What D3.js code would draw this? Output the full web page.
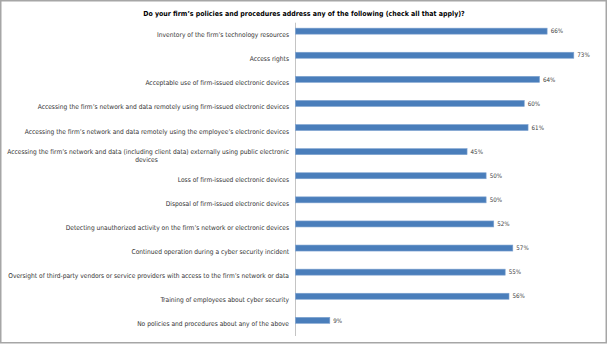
<!DOCTYPE html>
<html>
<head>
<meta charset="utf-8">
<script src="https://cdn.jsdelivr.net/npm/d3@7"></script>
<style>
  html, body { margin: 0; padding: 0; background: #fff; }
  svg { display: block; }
  text { font-family: "Liberation Sans Narrow", "DejaVu Sans Condensed", "Liberation Sans", sans-serif; }
</style>
</head>
<body>
<svg id="chart" width="608" height="344"></svg>
<script>
const title = "Do your firm\u2019s policies and procedures address any of the following (check all that apply)?";

const categories = [
  "Inventory of the firm\u2019s technology resources",
  "Access rights",
  "Acceptable use of firm-issued electronic devices",
  "Accessing the firm\u2019s network and data remotely using firm-issued electronic devices",
  "Accessing the firm\u2019s network and data remotely using the employee\u2019s electronic devices",
  "Accessing the firm\u2019s network and data (including client data) externally using public electronic devices",
  "Loss of firm-issued electronic devices",
  "Disposal of firm-issued electronic devices",
  "Detecting unauthorized activity on the firm\u2019s network or electronic devices",
  "Continued operation during a cyber security incident",
  "Oversight of third-party vendors or service providers with access to the firm\u2019s network or data",
  "Training of employees about cyber security",
  "No policies and procedures about any of the above"
];

// Label lines (the long public-device item wraps onto two lines)
const labelLines = [
  ["Inventory of the firm\u2019s technology resources"],
  ["Access rights"],
  ["Acceptable use of firm-issued electronic devices"],
  ["Accessing the firm\u2019s network and data remotely using firm-issued electronic devices"],
  ["Accessing the firm\u2019s network and data remotely using the employee\u2019s electronic devices"],
  ["Accessing the firm\u2019s network and data (including client data) externally using public electronic", "devices"],
  ["Loss of firm-issued electronic devices"],
  ["Disposal of firm-issued electronic devices"],
  ["Detecting unauthorized activity on the firm\u2019s network or electronic devices"],
  ["Continued operation during a cyber security incident"],
  ["Oversight of third-party vendors or service providers with access to the firm\u2019s network or data"],
  ["Training of employees about cyber security"],
  ["No policies and procedures about any of the above"]
];

const values = [66, 73, 64, 60, 61, 45, 50, 50, 52, 57, 55, 56, 9];

const svg = d3.select("#chart");

// Outer frame
svg.append("rect")
  .attr("x", 0.75).attr("y", 0.75)
  .attr("width", 605.5).attr("height", 342)
  .attr("fill", "#fff")
  .attr("stroke", "#a6a6a6")
  .attr("stroke-width", 1.5);

const x = d3.scaleLinear().domain([0, 80]).range([295, 600]);
const y = d3.scaleBand().domain(categories).range([22.7, 336]).paddingInner(0).paddingOuter(0);
const barH = 6;
const barShift = -3.6;

// Title
const titleText = svg.append("text")
  .attr("x", 304).attr("y", 15.5)
  .attr("text-anchor", "middle")
  .attr("font-weight", "bold")
  .attr("font-size", 9)
  .attr("fill", "#000")
  .text(title);
// fit title to its intended width
{
  const w = titleText.node().getComputedTextLength();
  titleText.attr("font-size", 9 * 322 / w);
}

// Category axis line
svg.append("line")
  .attr("x1", 295.5).attr("x2", 295.5)
  .attr("y1", y.range()[0]).attr("y2", y.range()[1])
  .attr("stroke", "#c4c4c4")
  .attr("stroke-width", 1);

// Category labels
const labelG = svg.append("g").attr("fill", "#333");
const labels = labelG.selectAll("text")
  .data(categories)
  .join("text")
  .attr("font-size", 7);

labels.each(function (d, i) {
  const lines = labelLines[i];
  const t = d3.select(this);
  const cy = y(d) + y.bandwidth() / 2;
  const lh = 8.3;
  lines.forEach((ln, k) => {
    const yy = cy + (k - (lines.length - 1) / 2) * lh + 2.4;
    t.append("tspan")
      .attr("x", lines.length > 1 && k > 0 ? 146.5 : 289)
      .attr("y", yy)
      .attr("text-anchor", lines.length > 1 && k > 0 ? "middle" : "end")
      .text(ln);
  });
});

// scale label font so the longest single line spans its measured width
{
  const longest = labels.filter((d, i) => i === 10).node();
  const w = longest.getComputedTextLength();
  labels.attr("font-size", 7 * 281 / w);
}

// Bars
svg.append("g").selectAll("rect")
  .data(values)
  .join("rect")
  .attr("x", x(0) + 0.5)
  .attr("y", (d, i) => y(categories[i]) + y.bandwidth() / 2 + barShift - barH / 2)
  .attr("width", d => x(d) - x(0))
  .attr("height", barH)
  .attr("fill", "#4a7ebb")
  .attr("stroke", "#7fa3d0")
  .attr("stroke-width", 0.6);

// Value labels
svg.append("g").selectAll("text")
  .data(values)
  .join("text")
  .attr("x", d => x(d) + 4)
  .attr("y", (d, i) => y(categories[i]) + y.bandwidth() / 2 + barShift + 2.2)
  .attr("font-size", 6.2)
  .attr("fill", "#404040")
  .text(d => d + "%");
</script>
</body>
</html>
